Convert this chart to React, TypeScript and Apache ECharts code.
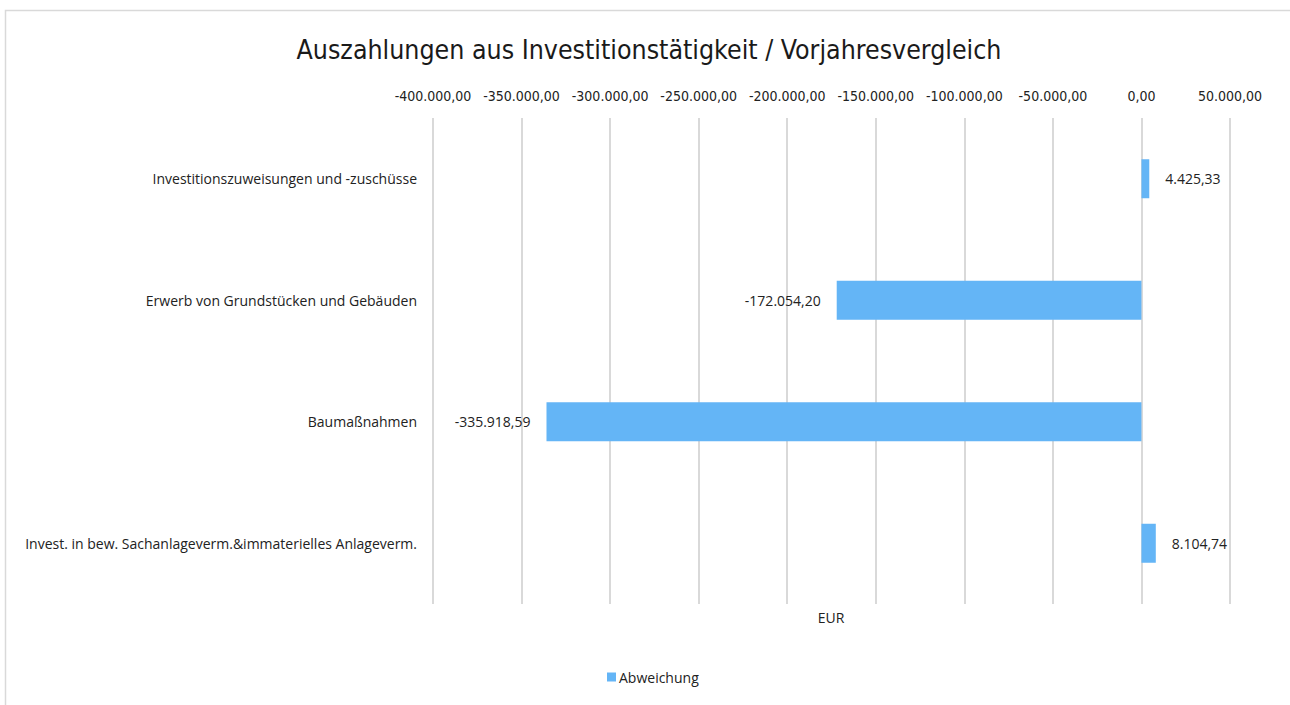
import React, { useEffect, useRef } from "react";
import * as echarts from "echarts";

const categories = [
  "Investitionszuweisungen und -zuschüsse",
  "Erwerb von Grundstücken und Gebäuden",
  "Baumaßnahmen",
  "Invest. in bew. Sachanlageverm.&immaterielles Anlageverm.",
];
const values = [4425.33, -172054.2, -335918.59, 8104.74];
const seriesName = "Abweichung";
const axisMin = -400000;
const axisMax = 50000;
const axisStep = 50000;

function fmtDE(v: number): string {
  const neg = v < 0;
  const abs = Math.abs(v);
  const fixed = abs.toFixed(2);
  const [intPart, dec] = fixed.split(".");
  const withDots = intPart.replace(/\B(?=(\d{3})+(?!\d))/g, ".");
  return (neg ? "-" : "") + withDots + "," + dec;
}

const narrow = "'Liberation Sans Narrow', 'DejaVu Sans Condensed', Roboto, sans-serif";
const body = "'Open Sans', Roboto, sans-serif";

export default function App() {
  const ref = useRef<HTMLDivElement>(null);
  useEffect(() => {
    if (!ref.current) return;
    const chart = echarts.init(ref.current, undefined, { renderer: "svg" });
    chart.setOption({
      animation: false,
      backgroundColor: "#ffffff",
      title: {
        text: "Auszahlungen aus Investitionstätigkeit / Vorjahresvergleich",
        left: 644,
        textAlign: "center",
        top: 31,
        textStyle: { fontFamily: narrow, fontSize: 26.5, fontWeight: "normal", color: "#1a1a1a" },
      },
      legend: {
        data: [seriesName],
        left: 607,
        top: 670,
        padding: 0,
        icon: "rect",
        itemWidth: 9,
        itemHeight: 9,
        itemGap: 5,
        textStyle: { fontFamily: body, fontSize: 14, color: "#222", padding: [0, 0, 0, -2] },
      },
      grid: { left: 433, right: 60, top: 118, bottom: 101, containLabel: false },
      xAxis: {
        type: "value",
        position: "top",
        min: axisMin,
        max: axisMax,
        interval: axisStep,
        axisLine: { show: false },
        axisTick: { show: false },
        axisLabel: {
          margin: 15,
          formatter: (v: number) => fmtDE(v),
          fontFamily: narrow,
          fontSize: 14,
          color: "#222",
        },
        splitLine: { show: true, lineStyle: { color: "#d9d9d9", width: 2 } },
      },
      yAxis: {
        type: "category",
        inverse: true,
        data: categories,
        axisLine: { show: false },
        axisTick: { show: false },
        axisLabel: { margin: 16, fontFamily: body, fontSize: 14, color: "#222" },
        splitLine: { show: false },
      },
      series: [
        {
          name: seriesName,
          type: "bar",
          barWidth: 39,
          itemStyle: { color: "#64b5f6" },
          data: values.map((v) => ({
            value: v,
            label: { position: v < 0 ? "left" : "right" },
          })),
          label: {
            show: true,
            distance: 16,
            formatter: (p: any) => fmtDE(p.value),
            fontFamily: body,
            fontSize: 14,
            color: "#222",
          },
        },
      ],
      graphic: [
        {
          type: "rect",
          shape: { x: 5.5, y: 10.5, width: 1300, height: 720 },
          style: { fill: "none", stroke: "#d9d9d9", lineWidth: 1.5 },
          silent: true,
        },
        {
          type: "text",
          x: 831,
          y: 617,
          style: {
            text: "EUR",
            fontFamily: body,
            fontSize: 14,
            fill: "#222",
            textAlign: "center",
            textVerticalAlign: "middle",
          },
        },
      ],
    });
    return () => chart.dispose();
  }, []);
  return (
    <div
      ref={ref}
      style={{ position: "absolute", left: 0, top: 0, width: 1290, height: 705 }}
    />
  );
}
